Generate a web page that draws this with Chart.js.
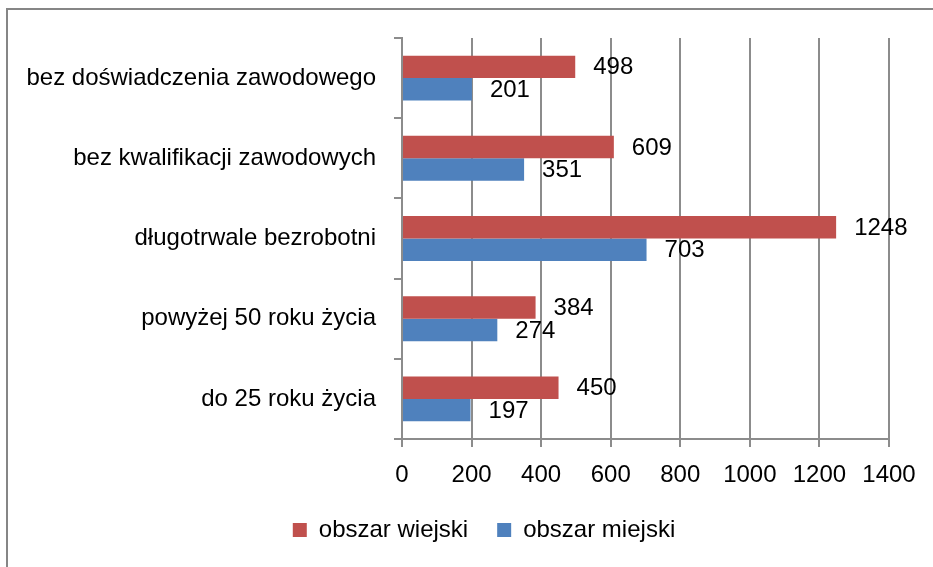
<!DOCTYPE html>
<html>
<head>
<meta charset="utf-8">
<script src="https://cdn.jsdelivr.net/npm/chart.js@4/dist/chart.umd.min.js"></script>
<style>
  html, body { margin: 0; padding: 0; background: #fff; }
  #wrap { width: 933px; height: 567px; }
</style>
</head>
<body>
<div id="wrap"><canvas id="c" width="933" height="567"></canvas></div>
<script>
const categories = [
  "bez doświadczenia zawodowego",
  "bez kwalifikacji zawodowych",
  "długotrwale bezrobotni",
  "powyżej 50 roku życia",
  "do 25 roku życia"
];
const seriesNames = ["obszar wiejski", "obszar miejski"];
const ruralValues = [498, 609, 1248, 384, 450];
const urbanValues = [201, 351, 703, 274, 197];
const xTicks = [0, 200, 400, 600, 800, 1000, 1200, 1400];

const FONT = "'Liberation Sans', Arial, sans-serif";
Chart.defaults.font.family = FONT;
Chart.defaults.font.size = 24;
Chart.defaults.color = '#000';

const frame = {
  id: 'frame',
  beforeDraw(chart) {
    const ctx = chart.ctx;
    ctx.save();
    ctx.fillStyle = '#fff';
    ctx.fillRect(0, 0, chart.width, chart.height);
    ctx.strokeStyle = '#868686';
    ctx.lineWidth = 2;
    ctx.strokeRect(7, 9, 1200, 1200);
    ctx.restore();
  }
};

// shift legend box so it is centred like the original
const legendShift = {
  id: 'legendShift',
  afterLayout(chart) {
    if (chart.legend) { chart.legend.left += 79; }
  }
};

const valueLabels = {
  id: 'valueLabels',
  afterDatasetsDraw(chart) {
    const ctx = chart.ctx;
    ctx.save();
    ctx.font = "24px " + FONT;
    ctx.fillStyle = '#000';
    ctx.textAlign = 'left';
    ctx.textBaseline = 'middle';
    chart.data.datasets.forEach((ds, i) => {
      const meta = chart.getDatasetMeta(i);
      meta.data.forEach((bar, j) => {
        ctx.fillText(String(ds.data[j]), bar.x + 18, bar.y + 1);
      });
    });
    ctx.restore();
  }
};

new Chart(document.getElementById('c'), {
  type: 'bar',
  data: {
    labels: categories,
    datasets: [
      { label: seriesNames[0], data: ruralValues, backgroundColor: '#C0504D',
        categoryPercentage: 0.56, barPercentage: 1.0 },
      { label: seriesNames[1], data: urbanValues, backgroundColor: '#4F81BD',
        categoryPercentage: 0.56, barPercentage: 1.0 }
    ]
  },
  options: {
    indexAxis: 'y',
    responsive: false,
    animation: false,
    devicePixelRatio: 1,
    layout: { padding: { left: 0, right: 44, top: 38, bottom: 15 } },
    scales: {
      x: {
        min: 0, max: 1400,
        afterBuildTicks(scale) { scale.ticks = xTicks.map(v => ({ value: v })); },
        afterFit(scale) { scale.height = 50; },
        grid: { color: '#8c8c8c', lineWidth: 2, tickLength: 8, drawTicks: true },
        border: { color: '#8c8c8c', width: 2 },
        ticks: { padding: 14, font: { size: 24 }, color: '#000', maxRotation: 0, autoSkip: false,
                 callback: v => String(v) }
      },
      y: {
        afterFit(scale) { scale.width = 402; },
        grid: { drawOnChartArea: false, color: '#8c8c8c', lineWidth: 2, tickLength: 8, offset: true },
        border: { color: '#8c8c8c', width: 2 },
        ticks: { padding: 18, font: { size: 24 }, color: '#000', autoSkip: false }
      }
    },
    plugins: {
      legend: {
        position: 'bottom',
        labels: { boxWidth: 14, boxHeight: 14, padding: 29, font: { size: 24 }, color: '#000' }
      },
      tooltip: { enabled: false }
    }
  },
  plugins: [frame, legendShift, valueLabels]
});
</script>
</body>
</html>
